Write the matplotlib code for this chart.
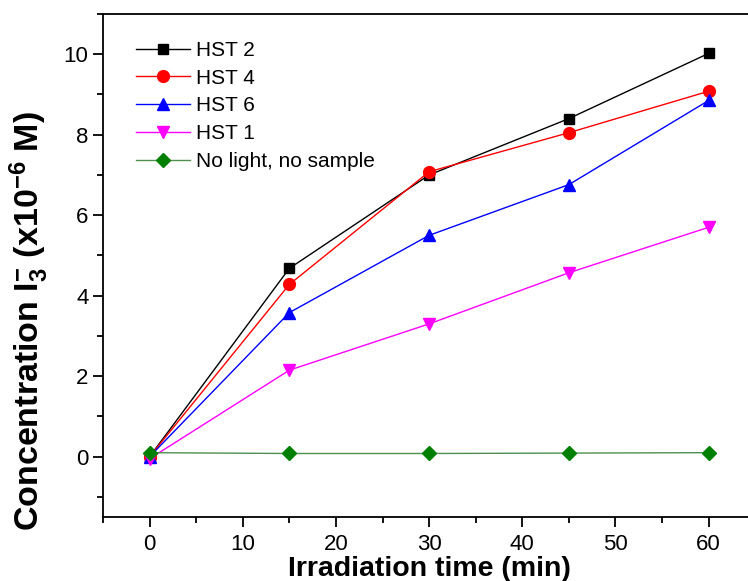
import numpy as np
import matplotlib
matplotlib.use('Agg')
import matplotlib.pyplot as plt
from matplotlib.ticker import MultipleLocator

plt.rcParams['font.family'] = ['Liberation Sans', 'DejaVu Sans']
plt.rcParams['mathtext.default'] = 'regular'

# data
time_min = [0, 15, 30, 45, 60]
hst2 = [0.0, 4.68, 7.00, 8.40, 10.02]
hst4 = [0.0, 4.28, 7.08, 8.05, 9.08]
hst6 = [0.0, 3.58, 5.50, 6.76, 8.85]
hst1 = [-0.05, 2.15, 3.30, 4.57, 5.70]
no_light = [0.10, 0.08, 0.08, 0.09, 0.10]

series = [
    ('HST 2', hst2, 'black', 's', 7.5),
    ('HST 4', hst4, 'red', 'o', 8.5),
    ('HST 6', hst6, 'blue', '^', 8.5),
    ('HST 1', hst1, 'magenta', 'v', 8.5),
    ('No light, no sample', no_light, 'green', 'D', 7.5),
]

fig = plt.figure(figsize=(7.48, 5.81), dpi=100)
ax = fig.add_axes([0.1377, 0.110, 0.872, 0.866])

for name, vals, col, mk, ms in series:
    lc = col
    if col == 'green':
        lc = '#4f8f4f'
    ax.plot(time_min, vals, color=lc, lw=1.0, marker=mk, markersize=ms,
            markerfacecolor=col, markeredgecolor=col, label=name)

ax.set_xlim(-5, 65)
ax.set_ylim(-1.5, 11)
ax.xaxis.set_major_locator(MultipleLocator(10))
ax.xaxis.set_minor_locator(MultipleLocator(5))
ax.yaxis.set_major_locator(MultipleLocator(2))
ax.yaxis.set_minor_locator(MultipleLocator(1))
ax.set_yticks([0, 2, 4, 6, 8, 10])
ax.tick_params(which='major', direction='out', length=7, width=1.3, labelsize=16)
ax.tick_params(which='minor', direction='out', length=4, width=1.3)
ax.tick_params(axis='x', pad=5)
for s in ax.spines.values():
    s.set_linewidth(1.3)

ax.set_xlabel('Irradiation time (min)', fontsize=20.5, fontweight='bold', labelpad=1)
ax.set_ylabel(r'Concentration I$_3^{-}$ (x10$^{-6}$ M)', fontsize=24.5, fontweight='bold')
ax.yaxis.set_label_coords(-0.08, 0.39)

ax.legend(loc='upper left', bbox_to_anchor=(0.018, 0.988), frameon=False, fontsize=15,
          handlelength=2.6, handletextpad=0.3, labelspacing=0.42, borderaxespad=0.6)

plt.savefig('out.png', dpi=100)
